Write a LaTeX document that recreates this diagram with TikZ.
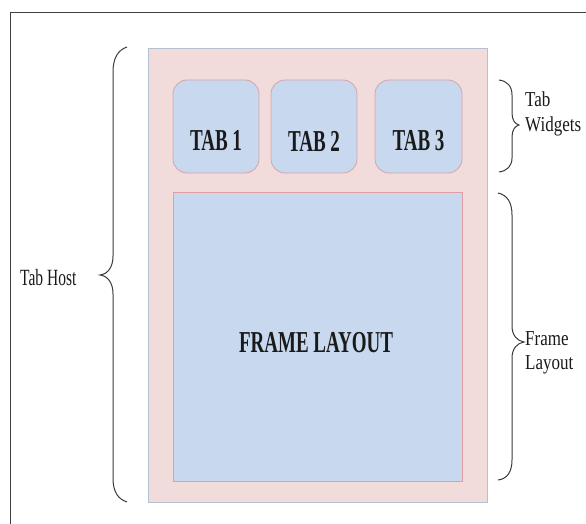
\documentclass[tikz,border=0pt]{standalone}
\usepackage{fontspec}
\setmainfont{Liberation Serif}
\definecolor{hostfill}{HTML}{F2DCDB}
\definecolor{hostline}{HTML}{B4C0D2}
\definecolor{tabfill}{HTML}{C7D8EF}
\definecolor{tabline}{HTML}{D7A4A8}
\definecolor{frameline}{HTML}{E29CA2}
\definecolor{ink}{HTML}{1A1A1A}
\definecolor{bracecol}{HTML}{3A3A3A}
\tikzset{
  host/.style={draw=hostline, fill=hostfill, line width=0.9pt},
  tabbox/.style={draw=tabline, fill=tabfill, line width=0.8pt, rounded corners=14pt},
  framebox/.style={draw=frameline, fill=tabfill, line width=0.9pt},
  boxtext/.style={text=ink, font=\fontsize{19}{22}\selectfont\bfseries, yscale=1.6, transform shape, inner sep=0pt},
  sidetext/.style={text=ink, font=\fontsize{17}{19.5}\selectfont, yscale=1.25, transform shape, align=left, inner sep=0pt},
  hosttext/.style={text=ink, font=\fontsize{15.5}{18}\selectfont, yscale=1.5, transform shape, inner sep=0pt},
  bracepath/.style={draw=bracecol, line width=1pt},
  frameborder/.style={draw=black!75, line width=1pt}
}
\begin{document}
\begin{tikzpicture}[x=1pt, y=-1pt]
  \useasboundingbox (0,0) rectangle (586,524);

  % window frame, cut at the right and bottom
  \draw[frameborder] (10,524) -- (10,13) -- (586,13);

  % tab host container
  \draw[host] (148,48) rectangle (487,502);

  % tab widgets
  \draw[tabbox] (173,80) rectangle (259,173);
  \draw[tabbox] (271,80) rectangle (357,173);
  \draw[tabbox] (375,80) rectangle (462,173);
  \node[boxtext] (tab1) at (216,141) {TAB 1};
  \node[boxtext] (tab2) at (314,141) {TAB 2};
  \node[boxtext] (tab3) at (418.5,141) {TAB 3};

  % frame layout area
  \draw[framebox] (173,192) rectangle (462,481);
  \node[boxtext] (frame) at (316,343) {FRAME LAYOUT};

  % brace for the whole tab host
  \draw[bracepath] (127,47) .. controls (118,50) and (113,58) .. (113,72)
    -- (113,256) .. controls (113,267) and (108,274) .. (100,275)
    .. controls (108,276) and (113,283) .. (113,294)
    -- (113,478) .. controls (113,492) and (118,499) .. (127,502);
  \node[hosttext, anchor=west] (hostlabel) at (20,278) {Tab Host};

  % brace for the tab widgets
  \draw[bracepath] (499,80) .. controls (507,81) and (512,86) .. (512,95)
    -- (512,113) .. controls (512,120) and (515,124) .. (519,125)
    .. controls (515,126) and (512,130) .. (512,137)
    -- (512,158) .. controls (512,166) and (507,171) .. (499,172);
  \node[sidetext, anchor=west] (tablabel) at (525,114) {Tab\\Widgets};

  % brace for the frame layout
  \draw[bracepath] (498,193) .. controls (507,195) and (512,202) .. (512,215)
    -- (512,326) .. controls (512,335) and (517,341) .. (524,342)
    .. controls (517,343) and (512,349) .. (512,358)
    -- (512,460) .. controls (512,472) and (507,479) .. (498,480);
  \node[sidetext, anchor=west] (framelabel) at (525,353) {Frame\\Layout};
\end{tikzpicture}
\end{document}
